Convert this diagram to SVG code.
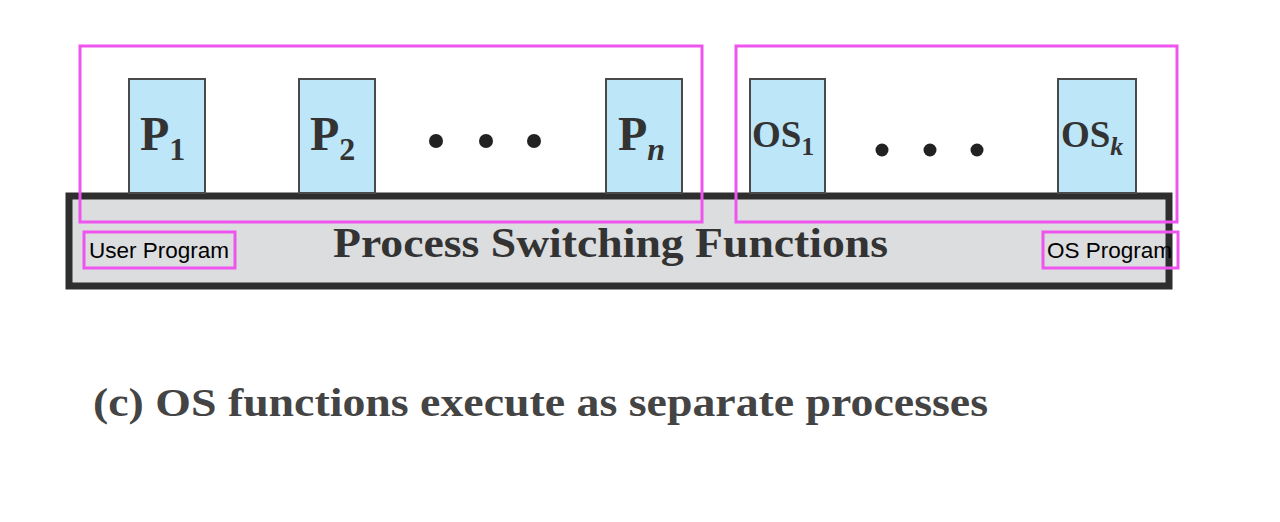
<svg xmlns="http://www.w3.org/2000/svg" width="1280" height="522" viewBox="0 0 1280 522">
<style>
.proc{fill:#bde6f8;stroke:#4a4a4a;stroke-width:2}
.ptxt{font-family:'Liberation Serif','Times New Roman',Times,serif;font-weight:bold;fill:#333}
.dot{fill:#222}
.hl{fill:none;stroke:#ee55ee;stroke-width:3}
.lbl{font-family:'Liberation Sans',Arial,sans-serif;font-size:22.5px;fill:#000}
</style>
<rect width="1280" height="522" fill="#fff"/>
<g id="bar">
<rect x="69" y="196" width="1100" height="90" fill="#dcdddf" stroke="#2e2e2e" stroke-width="7"/>
<text x="333" y="257" class="ptxt" font-size="42" textLength="555" lengthAdjust="spacingAndGlyphs">Process Switching Functions</text>
</g>
<g id="p1"><rect class="proc" x="129" y="79" width="76" height="114"/><text x="140" y="150" class="ptxt" font-size="48">P<tspan font-size="32" dy="10">1</tspan></text></g>
<g id="p2"><rect class="proc" x="299" y="79" width="76" height="114"/><text x="310" y="150" class="ptxt" font-size="48">P<tspan font-size="32" dy="10">2</tspan></text></g>
<g id="dots1"><circle class="dot" cx="436" cy="141" r="7"/><circle class="dot" cx="486" cy="141" r="7"/><circle class="dot" cx="534" cy="141" r="7"/></g>
<g id="pn"><rect class="proc" x="606" y="79" width="76" height="114"/><text x="618" y="150" class="ptxt" font-size="48">P<tspan font-size="32" dy="10" font-style="italic">n</tspan></text></g>
<g id="os1"><rect class="proc" x="750" y="79" width="75" height="114"/><text x="752" y="147" class="ptxt" font-size="37">OS<tspan font-size="26" dy="8">1</tspan></text></g>
<g id="dots2"><circle class="dot" cx="882" cy="150" r="6.5"/><circle class="dot" cx="930" cy="150" r="6.5"/><circle class="dot" cx="977" cy="150" r="6.5"/></g>
<g id="osk"><rect class="proc" x="1058" y="79" width="78" height="114"/><text x="1061" y="147" class="ptxt" font-size="37">OS<tspan font-size="26" dy="8" font-style="italic">k</tspan></text></g>
<g id="highlights">
<rect class="hl" x="80" y="46" width="622" height="176"/>
<rect class="hl" x="736" y="46" width="441" height="176"/>
<rect class="hl" x="84" y="232" width="151" height="36"/>
<rect class="hl" x="1043" y="232" width="135" height="36"/>
</g>
<g id="labels">
<text x="89" y="258" class="lbl">User Program</text>
<text x="1047" y="258" class="lbl">OS Program</text>
</g>
<g id="caption">
<text x="93" y="416" class="ptxt" font-size="40" style="fill:#444" textLength="895" lengthAdjust="spacingAndGlyphs">(c) OS functions execute as separate processes</text>
</g>
</svg>
